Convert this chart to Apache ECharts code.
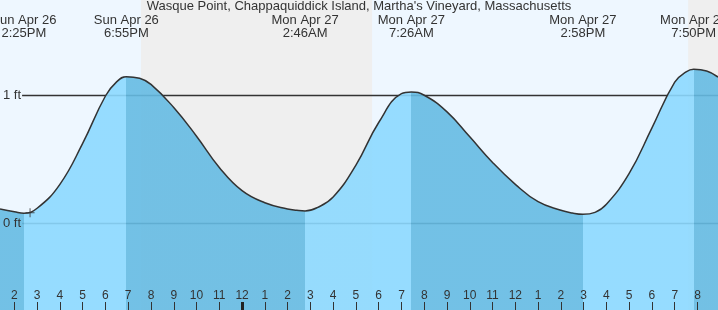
<!DOCTYPE html>
<html><head><meta charset="utf-8">
<script src="https://cdn.jsdelivr.net/npm/echarts@6/dist/echarts.min.js"></script>
<style>html,body{margin:0;padding:0;background:#eef7ff}#c{width:718px;height:310px}</style>
</head><body><div id="c"></div>
<script>
// hours counted from Sun Apr 26 00:00
const titleText = "Wasque Point, Chappaquiddick Island, Martha's Vineyard, Massachusetts";
const tideHours = [13.37,14,14.417,15,16,17,18,18.5,18.917,19.5,20,21,22,23,24,25,26,26.4,26.767,27.3,28,29,30,31,31.433,32,33,34,35,36,37,38,38.5,38.967,39.5,40,41,42,43,43.5,43.833,44.4,44.9];
const tideFeet  = [0.109,0.088,0.076,0.115,0.302,0.622,0.992,1.104,1.143,1.13,1.083,0.902,0.678,0.434,0.252,0.158,0.109,0.099,0.094,0.12,0.203,0.452,0.785,1.01,1.023,0.998,0.868,0.673,0.473,0.302,0.166,0.099,0.078,0.068,0.083,0.146,0.387,0.743,1.101,1.18,1.2,1.188,1.14];
const eventHours  = [14.417, 18.917, 26.767, 31.433, 38.967, 43.833];
const eventLabels = ['Sun Apr 26\n2:25PM','Sun Apr 26\n6:55PM','Mon Apr 27\n2:46AM','Mon Apr 27\n7:26AM','Mon Apr 27\n2:58PM','Mon Apr 27\n7:50PM'];
const nightStarts = [19.56, 43.59];
const nightEnds   = [29.71, 44.9];
const hourTicks = [14,15,16,17,18,19,20,21,22,23,24,25,26,27,28,29,30,31,32,33,34,35,36,37,38,39,40,41,42,43,44];
const midnightTicks = [24];
const levelFeet = [0, 1];
const levelLabels = ['0 ft', '1 ft'];
const nowHour = [14.69];
const nowFeet = [0.08];

const X_MIN = 13.37, X_MAX = 44.9, Y_MIN = -0.68, Y_MAX = 1.742, LINE_START = 14.34;
const FONT = '"Liberation Sans", Arial, sans-serif';
const LIGHT = '#8cd9ff', DARK = '#65bbe3';

const tide = tideHours.map((h, i) => [h, tideFeet[i]]);
const pieces = [];
let prev = -Infinity;
eventHours.forEach((h, i) => { pieces.push({gte: prev, lt: h, color: i % 2 === 0 ? DARK : LIGHT}); prev = h; });
pieces.push({gte: prev, lt: Infinity, color: eventHours.length % 2 === 0 ? DARK : LIGHT});

const chart = echarts.init(document.getElementById('c'));
const baseX = {type: 'value', min: X_MIN, max: X_MAX, z: 20, splitLine: {show: false}, axisLine: {show: false, onZero: false}};
chart.setOption({
  animation: false,
  backgroundColor: '#eef7ff',
  title: {text: titleText, left: 'center', top: 0, padding: 0, textStyle: {fontFamily: FONT, fontSize: 13, fontWeight: 'normal', color: '#333'}},
  grid: {left: 0, right: 0, top: 0, bottom: 0, containLabel: false, outerBoundsMode: 'none'},
  xAxis: [
    Object.assign({}, baseX, {position: 'bottom',
      axisTick: {show: true, inside: true, length: 8, customValues: hourTicks, lineStyle: {color: '#333', width: 1}},
      axisLabel: {show: true, inside: true, margin: 8, customValues: hourTicks, fontFamily: FONT, fontSize: 12, color: '#333',
        formatter: v => String((Math.round(v) % 12) || 12)}}),
    Object.assign({}, baseX, {position: 'bottom',
      axisTick: {show: true, inside: true, length: 8, customValues: midnightTicks, lineStyle: {color: '#222', width: 3}},
      axisLabel: {show: false}}),
    Object.assign({}, baseX, {position: 'top', axisTick: {show: false},
      axisLabel: {show: true, inside: true, margin: 14, customValues: eventHours, fontFamily: FONT, fontSize: 13, color: '#333', lineHeight: 13, align: 'center',
        formatter: v => eventLabels[eventHours.indexOf(v)] || ''}})
  ],
  yAxis: {type: 'value', min: Y_MIN, max: Y_MAX, z: 20, position: 'left', splitLine: {show: false},
    axisLine: {show: false, onZero: false}, axisTick: {show: false},
    axisLabel: {show: true, inside: true, margin: 3, customValues: levelFeet, fontFamily: FONT, fontSize: 13, color: '#333',
      formatter: v => levelLabels[levelFeet.indexOf(v)] || ''}},
  visualMap: {type: 'piecewise', show: false, dimension: 0, seriesIndex: 1, pieces: pieces},
  series: [
    {type: 'line', data: tide, symbol: 'none', lineStyle: {opacity: 0}, z: 1, silent: true,
      markArea: {silent: true, z: 0, itemStyle: {color: '#efefef'},
        data: nightStarts.map((s, i) => [{xAxis: s}, {xAxis: nightEnds[i]}])},
      markLine: {silent: true, z: 1, symbol: ['none', 'none'], lineStyle: {color: '#333', width: 1.4, type: 'solid'},
        label: {show: false},
        data: levelFeet.map(v => [{coord: [LINE_START, v]}, {coord: [X_MAX, v]}])}},
    {type: 'line', data: tide, symbol: 'none', smooth: 0.45, z: 2, lineStyle: {width: 0}, areaStyle: {origin: 'start', opacity: 0.9}},
    {type: 'line', data: tide, symbol: 'none', smooth: 0.45, z: 3, lineStyle: {color: '#333', width: 1.5}},
    {type: 'scatter', data: nowHour.map((h, i) => [h, nowFeet[i]]), z: 4, symbolSize: 9,
      symbol: 'path://M4,0h1v9h-1zM0,4h9v1h-9z', itemStyle: {color: '#333'}}
  ]
});
</script></body></html>
